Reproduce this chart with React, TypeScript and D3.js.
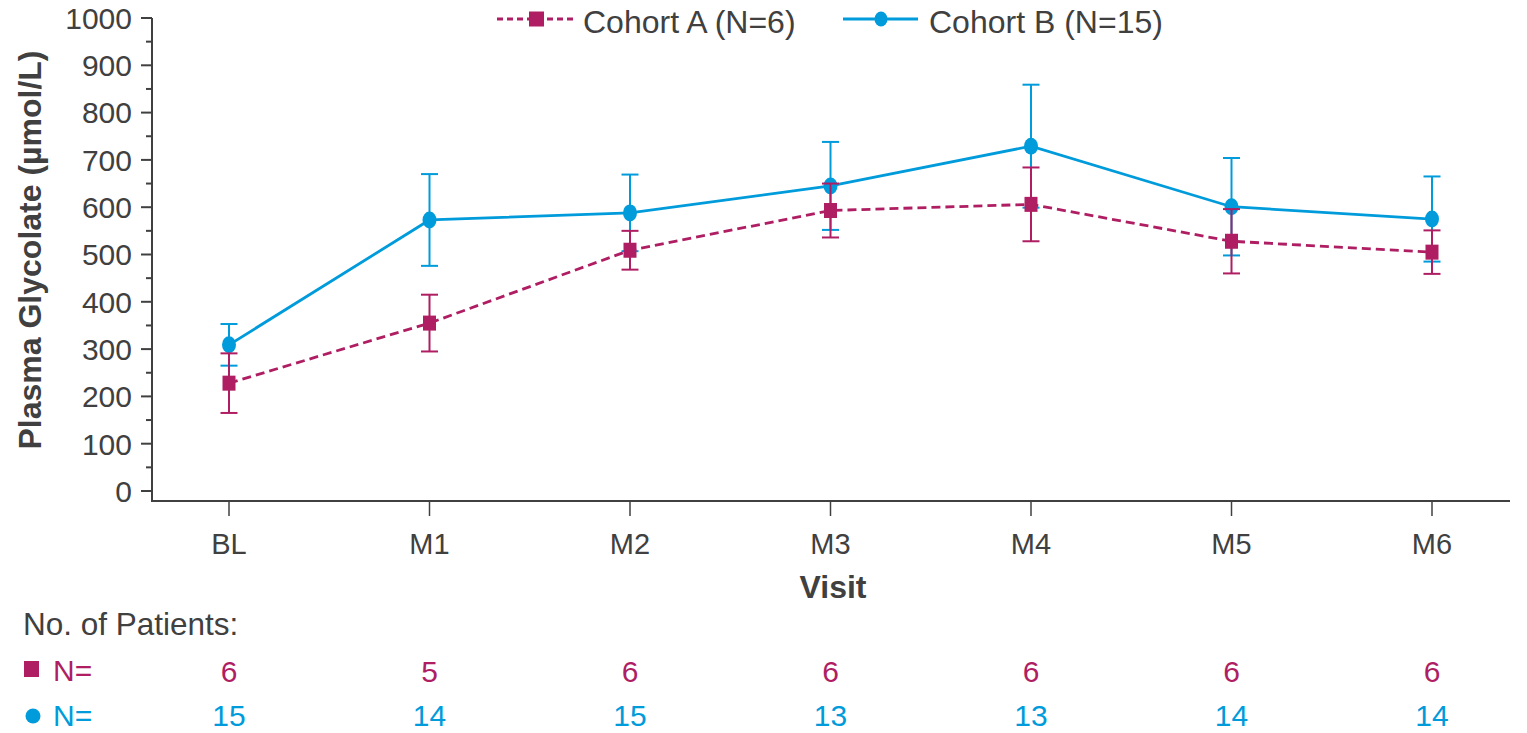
import React from "react";
import * as d3 from "d3";

const visits = ["BL", "M1", "M2", "M3", "M4", "M5", "M6"];
const cohortAMean = [228, 355, 509, 593, 606, 528, 505];
const cohortAErr = [63, 60, 41, 57, 78, 68, 46];
const cohortBMean = [309, 573, 588, 645, 729, 601, 575];
const cohortBErr = [44, 97, 81, 93, 130, 103, 90];
const cohortAN = [6, 5, 6, 6, 6, 6, 6];
const cohortBN = [15, 14, 15, 13, 13, 14, 14];
const yTicks = [0, 100, 200, 300, 400, 500, 600, 700, 800, 900, 1000];
const yMinorTicks = [50, 150, 250, 350, 450, 550, 650, 750, 850, 950];

const MAGENTA = "#AF1E63";
const BLUE = "#009BDB";
const GRAY = "#404040";
const FONT = "'Liberation Sans', Arial, sans-serif";

export default function App() {
  const x = d3.scalePoint<string>().domain(visits).range([229, 1432]);
  const y = d3.scaleLinear().domain([0, 1000]).range([491, 18]);
  const axisY = 501;
  const axisX = 152;

  const line = d3
    .line<number>()
    .x((_, i) => x(visits[i]) as number)
    .y((d) => y(d));

  const series = [
    { name: "B", mean: cohortBMean, err: cohortBErr, color: BLUE, dash: null as string | null, shape: "circle" },
    { name: "A", mean: cohortAMean, err: cohortAErr, color: MAGENTA, dash: "9,5", shape: "square" },
  ];

  return (
    <svg
      width={1527}
      height={733}
      style={{ position: "absolute", left: 0, top: 0, display: "block" }}
      fontFamily={FONT}
    >
      <rect width={1527} height={733} fill="#fff" />
      {/* Y axis */}
      <line x1={axisX} x2={axisX} y1={18} y2={axisY} stroke={GRAY} strokeWidth={2} />
      {yTicks.map((t) => (
        <g key={t}>
          <line x1={axisX - 11} x2={axisX} y1={y(t)} y2={y(t)} stroke={GRAY} strokeWidth={2} />
          <text x={132} y={y(t)} dy="0.36em" textAnchor="end" fontSize={30} fill={GRAY}>
            {t}
          </text>
        </g>
      ))}
      {yMinorTicks.map((t) => (
        <line key={t} x1={axisX - 6} x2={axisX} y1={y(t)} y2={y(t)} stroke={GRAY} strokeWidth={2} />
      ))}
      <text
        transform={`translate(41,250) rotate(-90)`}
        textAnchor="middle"
        fontSize={32}
        fontWeight="bold"
        fill={GRAY}
      >
        Plasma Glycolate (µmol/L)
      </text>

      {/* X axis */}
      <line x1={axisX - 1} x2={1510} y1={axisY} y2={axisY} stroke={GRAY} strokeWidth={2} />
      {visits.map((v) => (
        <g key={v}>
          <line x1={x(v)} x2={x(v)} y1={axisY} y2={axisY + 15} stroke={GRAY} strokeWidth={1.5} />
          <text x={x(v)} y={554} textAnchor="middle" fontSize={29} fill={GRAY}>
            {v}
          </text>
        </g>
      ))}
      <text x={833} y={598} textAnchor="middle" fontSize={32} fontWeight="bold" fill={GRAY}>
        Visit
      </text>

      {/* Series */}
      {series.map((s) => (
        <g key={s.name}>
          {s.mean.map((m, i) => {
            const cx = x(visits[i]) as number;
            return (
              <g key={i} stroke={s.color} strokeWidth={2}>
                <line x1={cx} x2={cx} y1={y(m + s.err[i])} y2={y(m - s.err[i])} />
                <line x1={cx - 8.5} x2={cx + 8.5} y1={y(m + s.err[i])} y2={y(m + s.err[i])} />
                <line x1={cx - 8.5} x2={cx + 8.5} y1={y(m - s.err[i])} y2={y(m - s.err[i])} />
              </g>
            );
          })}
          <path
            d={line(s.mean) || ""}
            fill="none"
            stroke={s.color}
            strokeWidth={2.8}
            strokeDasharray={s.dash || undefined}
          />
          {s.mean.map((m, i) => {
            const cx = x(visits[i]) as number;
            return s.shape === "circle" ? (
              <ellipse key={i} cx={cx} cy={y(m)} rx={7} ry={8.5} fill={s.color} />
            ) : (
              <rect key={i} x={cx - 6.5} y={y(m) - 7.5} width={13} height={15} fill={s.color} />
            );
          })}
        </g>
      ))}

      {/* Legend */}
      <line x1={497} x2={573} y1={19} y2={19} stroke={MAGENTA} strokeWidth={3} strokeDasharray="6,4" />
      <rect x={529} y={11.5} width={15} height={15} fill={MAGENTA} />
      <text x={583} y={33} fontSize={32} fill={GRAY}>
        Cohort A (N=6)
      </text>
      <line x1={843} x2={918} y1={19} y2={19} stroke={BLUE} strokeWidth={3} />
      <ellipse cx={881} cy={19} rx={6.5} ry={7.5} fill={BLUE} />
      <text x={929} y={33} fontSize={32} fill={GRAY}>
        Cohort B (N=15)
      </text>

      {/* Patient counts */}
      <text x={23} y={635} fontSize={31.5} fill={GRAY}>
        No. of Patients:
      </text>
      <rect x={24} y={661} width={15} height={16} fill={MAGENTA} />
      <text x={53} y={681} fontSize={30} fill={MAGENTA}>
        N=
      </text>
      <circle cx={33} cy={716} r={7.5} fill={BLUE} />
      <text x={53} y={726} fontSize={30} fill={BLUE}>
        N=
      </text>
      {visits.map((v, i) => (
        <g key={v}>
          <text x={x(v)} y={682} textAnchor="middle" fontSize={30} fill={MAGENTA}>
            {cohortAN[i]}
          </text>
          <text x={x(v)} y={726} textAnchor="middle" fontSize={30} fill={BLUE}>
            {cohortBN[i]}
          </text>
        </g>
      ))}
    </svg>
  );
}
